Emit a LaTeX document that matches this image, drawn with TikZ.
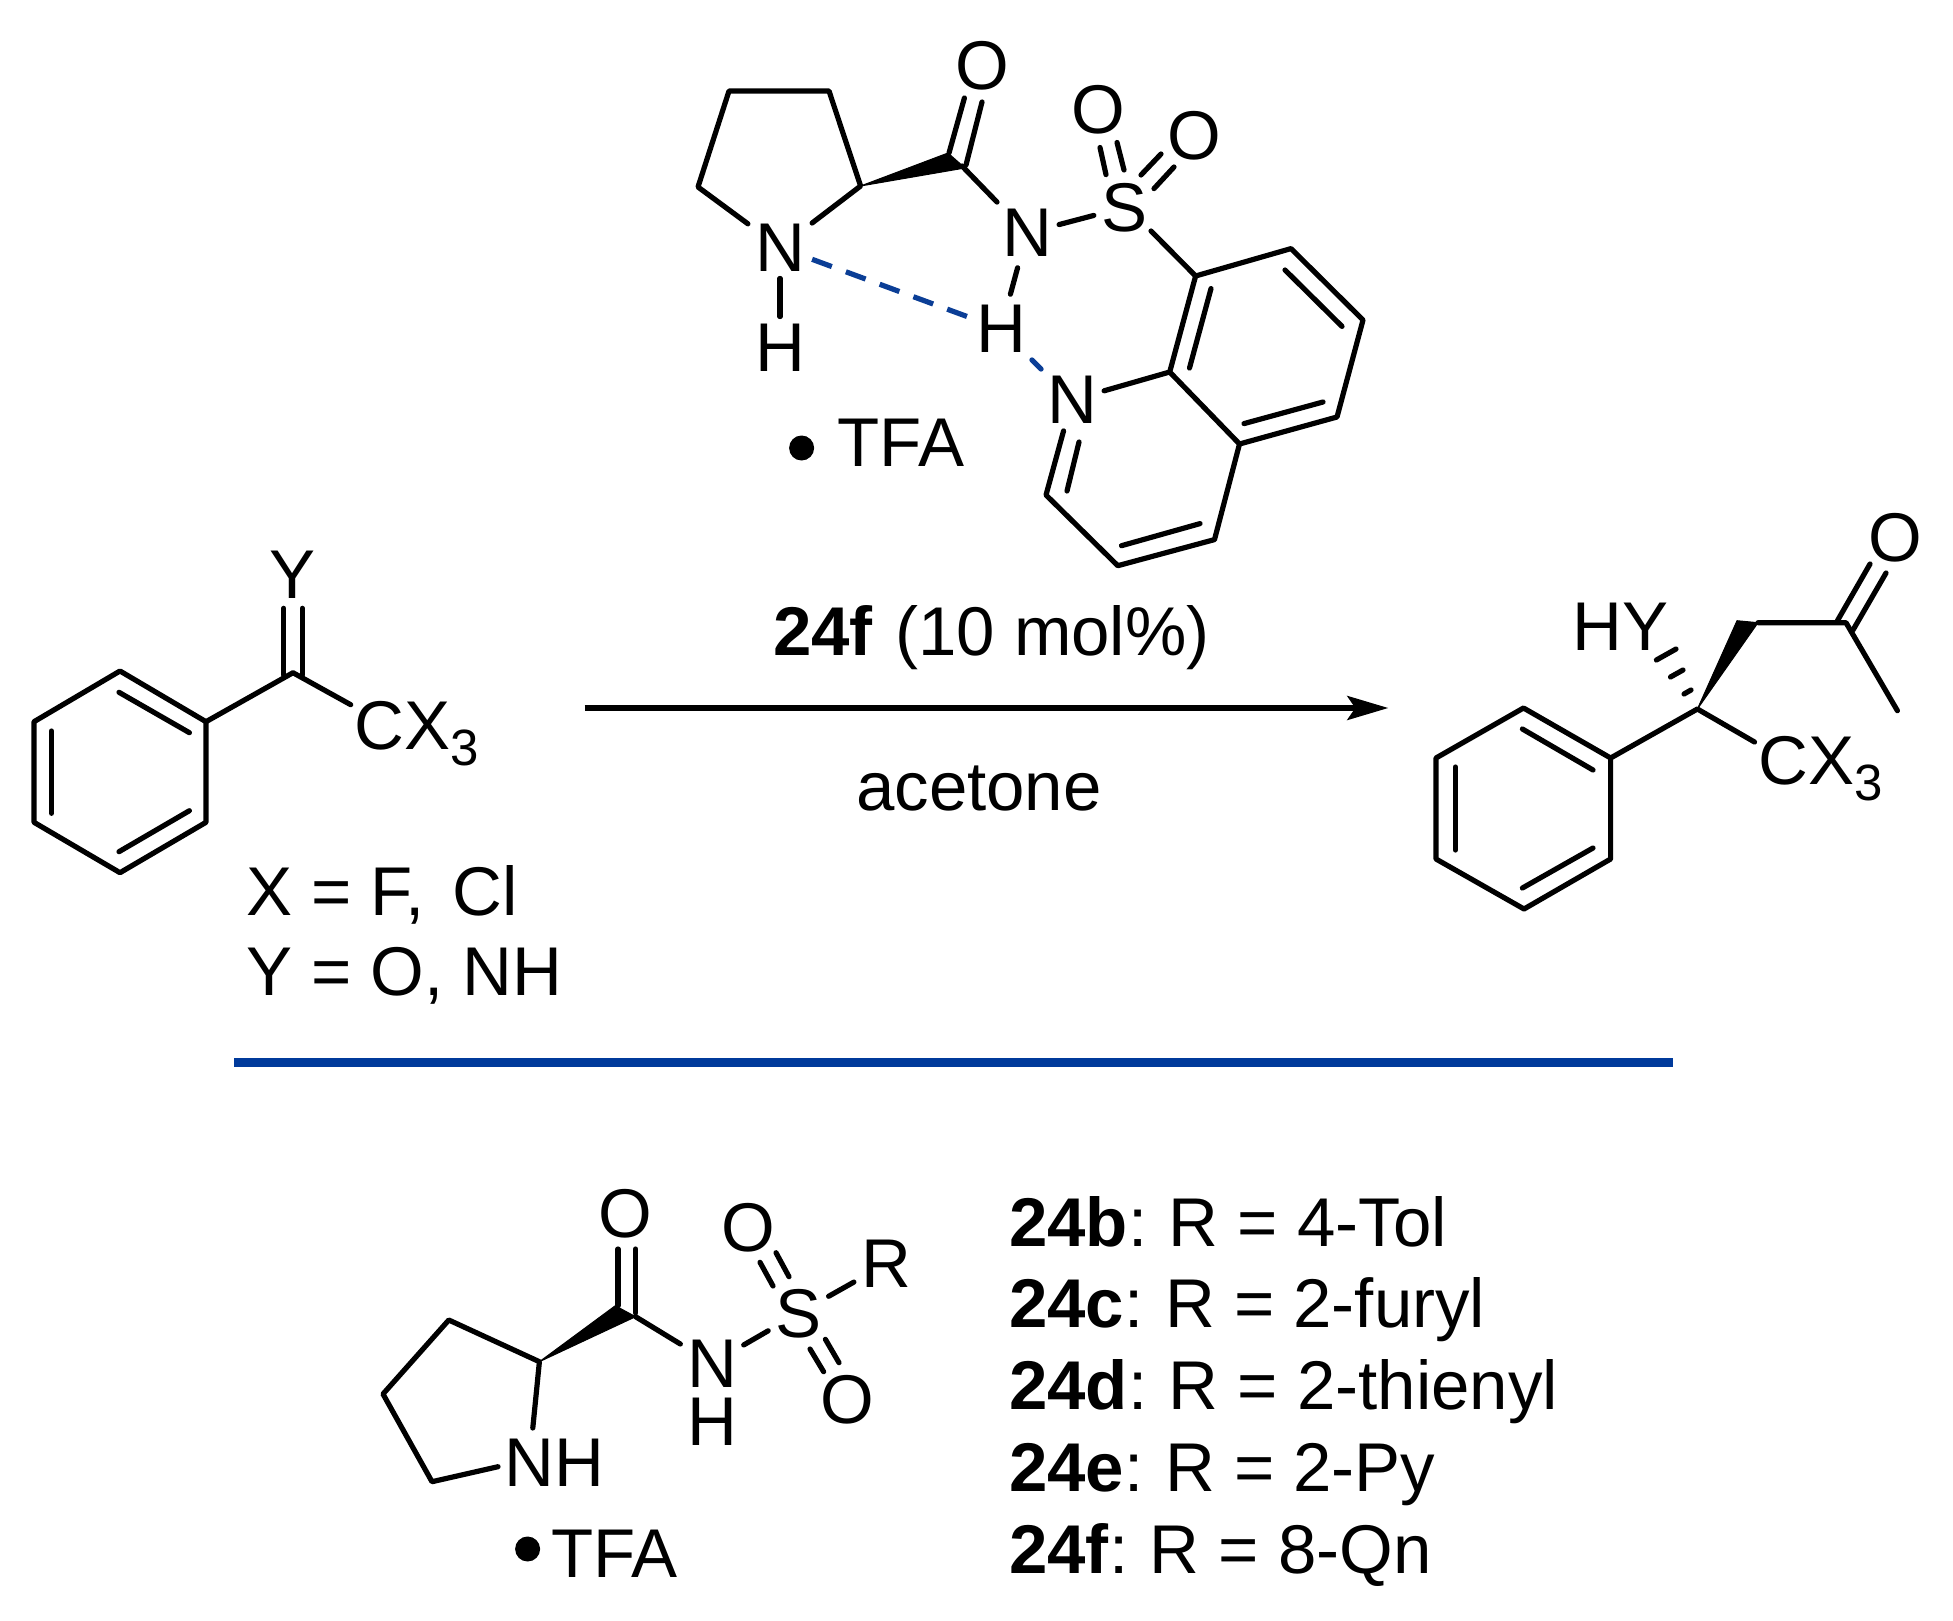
\documentclass[tikz,border=0pt]{standalone}
\usepackage{fontspec}
\setmainfont{Liberation Sans}
\usetikzlibrary{arrows.meta}
\definecolor{hbond}{HTML}{0B3E96}
\definecolor{rule}{HTML}{003A9B}
\newcommand{\fs}{\fontsize{69}{80}\selectfont}
\newcommand{\subthree}{\raisebox{-16pt}{\fontsize{51}{60}\selectfont 3}}
\newcommand{\seg}[3]{\coordinate (#1a) at (#2); \coordinate (#1b) at (#3); \draw[bondline] (#1a) -- (#1b);}
\tikzset{
  bondline/.style={line width=5.2pt,line cap=round,line join=round,black},
  hashline/.style={hbond,line width=5.2pt,line cap=round},
  atom/.style={font=\fs,inner sep=7pt,anchor=center},
  label/.style={font=\fs,inner sep=0pt,anchor=base west},
  dotnode/.style={circle,fill=black,inner sep=0pt,minimum size=25pt},
  wedge/.style={fill=black,draw=black,line width=1pt,line join=round},
}
\begin{document}
\begin{tikzpicture}[x=1pt,y=-1pt]
\useasboundingbox[fill=white] (0,0) rectangle (1953,1621);

% ---------- catalyst 24f ----------
\coordinate (pa) at (729,91);
\coordinate (pb) at (829,91);
\coordinate (pc) at (860.6,186);
\coordinate (pd) at (698,187);
\coordinate (cc) at (962,166);
\coordinate (w1) at (948,153);
\coordinate (w2) at (965,168);
\node[atom] (N1) at (780,247.5) {N};
\node[atom] (H1) at (780,347.5) {H};
\node[atom] (O1) at (982,65.7) {O};
\node[atom] (N2) at (1027,233) {N};
\node[atom] (S1) at (1124,207.5) {S};
\node[atom] (O2) at (1098,110) {O};
\node[atom] (O3) at (1194,136) {O};
\node[atom] (H2) at (1001,329) {H};
\node[atom] (N3) at (1072,400) {N};
\draw[bondline] (N1) -- (pd) -- (pa) -- (pb) -- (pc) -- (N1);
\fill[wedge] (pc) -- (w1) -- (w2) -- cycle;
\draw[bondline] (N1) -- (H1);
\seg{co1}{949,153}{964.4,98}
\seg{co2}{966,165}{982,102}
\draw[bondline] (cc) -- (N2);
\draw[bondline] (N2) -- (S1);
\draw[bondline,shorten <=4pt,shorten >=4pt] (N2) -- (H2);
\seg{so1}{1106,174.6}{1100,147.5}
\seg{so2}{1124,170}{1117,142.5}
\seg{so3}{1141,175}{1161,154}
\seg{so4}{1154,188.6}{1174,167}
\coordinate (q8) at (1195.6,276);
\coordinate (q7) at (1291,248.6);
\coordinate (q6) at (1363,320);
\coordinate (q5) at (1337,417);
\coordinate (q4a) at (1239.5,444);
\coordinate (q8a) at (1169.7,372);
\coordinate (q4) at (1214.5,539.6);
\coordinate (q3) at (1117.8,565.7);
\coordinate (q2) at (1046,495);
\coordinate (sc) at (1151,231);
\draw[bondline] (sc) -- (q8);
\draw[bondline] (q8) -- (q7) -- (q6) -- (q5) -- (q4a) -- (q8a) -- cycle;
\draw[bondline] (q4a) -- (q4) -- (q3) -- (q2) -- (N3);
\draw[bondline] (q8a) -- (N3);
\seg{qi1}{1067,491}{1079,442}
\seg{qi2}{1121.5,545.7}{1200,523.6}
\seg{qi3}{1244,423.6}{1323,402}
\seg{qi4}{1285,270}{1342,326.4}
\seg{qi5}{1211,288.6}{1189.5,368}
\draw[hashline,line cap=butt,dash pattern=on 21pt off 15pt] (N1) -- (H2);
\draw[hashline] (H2) -- (N3);
\node[dotnode] (dot1) at (801.6,448) {};
\node[label] (tfa1) at (837.5,466) {TFA};

% ---------- substrate ----------
\coordinate (b1) at (120,671);
\coordinate (b2) at (206,721.7);
\coordinate (b3) at (206,822.3);
\coordinate (b4) at (120,872.7);
\coordinate (b5) at (34,822.3);
\coordinate (b6) at (34,721.7);
\coordinate (cs) at (293,672.7);
\coordinate (cxe) at (350.7,704.7);
\draw[bondline] (b1) -- (b2) -- (b3) -- (b4) -- (b5) -- (b6) -- cycle;
\seg{bi1}{119,692.3}{189.4,732.7}
\seg{bi2}{51.4,731}{51.4,813.3}
\seg{bi3}{119,851.7}{189.4,810.7}
\draw[bondline] (b2) -- (cs) -- (cxe);
\seg{cy1}{283.8,675}{283.8,608.3}
\seg{cy2}{302.3,675}{302.3,608.3}
\node[atom] (Y1) at (292.3,574.5) {Y};
\node[label] (cx3a) at (354,749) {CX\subthree};
\node[label] (xeq) at (246,915.7) {X = F,\kern 9pt{} Cl};
\node[label] (yeq) at (246,995.7) {Y = O, NH};

% ---------- arrow ----------
\coordinate (ar1) at (584.7,708);
\coordinate (ar2) at (1388.3,708);
\draw[line width=5.2pt,-{Stealth[length=41pt,width=24pt,inset=8pt]}] (ar1) -- (ar2);
\node[label] (cond) at (773,655) {\textbf{24f}\kern 3pt{} (10 mol\%)};
\node[label] (solv) at (856,810) {acetone};

% ---------- product ----------
\coordinate (d1) at (1523.5,708);
\coordinate (d2) at (1610.6,758);
\coordinate (d3) at (1610.6,859);
\coordinate (d4) at (1524,909);
\coordinate (d5) at (1436,859);
\coordinate (d6) at (1436,758);
\coordinate (cst) at (1697.4,709);
\coordinate (cxf) at (1754.5,742);
\coordinate (ch1) at (1737,620.7);
\coordinate (ch2) at (1758,622.7);
\coordinate (ck) at (1846,622.7);
\coordinate (me) at (1897.4,710.7);
\draw[bondline] (d1) -- (d2) -- (d3) -- (d4) -- (d5) -- (d6) -- cycle;
\seg{di1}{1522.4,729}{1593,770}
\seg{di2}{1455.4,767}{1455.4,850}
\seg{di3}{1522.4,888}{1593,848}
\draw[bondline] (d2) -- (cst) -- (cxf);
\fill[wedge] (cst) -- (ch1) -- (ch2) -- cycle;
\draw[bondline] (ch2) -- (ck) -- (me);
\seg{ko1}{1837.4,620.7}{1870,564}
\seg{ko2}{1853,630}{1886,573}
\node[atom] (O4) at (1895.6,537.7) {O};
\node[label] (hy) at (1572.5,650) {HY};
\node[label] (cx3b) at (1758,784) {CX\subthree};
\seg{h1}{1684,694}{1691,690}
\seg{h2}{1670.5,677}{1683,670}
\seg{h3}{1656.4,660}{1676,649}

% ---------- rule ----------
\coordinate (ru1) at (234,1062);
\coordinate (ru2) at (1673,1062);
\draw[rule,line width=9pt] (ru1) -- (ru2);

% ---------- general catalyst ----------
\coordinate (ga) at (448.8,1320);
\coordinate (gb) at (539.4,1361.7);
\coordinate (gc) at (383,1394);
\coordinate (gd) at (432,1481.7);
\coordinate (ge) at (532.8,1428);
\coordinate (gf) at (498,1466.7);
\coordinate (gw1) at (615.3,1305.7);
\coordinate (gw2) at (635.6,1316.7);
\node[label] (nh) at (504,1486.7) {NH};
\draw[bondline] (ge) -- (gb) -- (ga) -- (gc) -- (gd) -- (gf);
\fill[wedge] (gb) -- (gw1) -- (gw2) -- cycle;
\seg{gco1}{617.9,1305.7}{617.9,1249}
\seg{gco2}{635.6,1313}{635.6,1249}
\node[atom] (O5) at (625.6,1214) {O};
\node[atom,inner sep=4pt] (N5) at (712,1363.3) {N};
\node[atom,inner sep=0pt] (H5) at (712,1421.7) {H};
\node[atom] (S5) at (798.4,1313.3) {S};
\node[atom] (R5) at (886,1264) {R};
\node[atom] (O6) at (748.5,1227.7) {O};
\node[atom] (O7) at (847.6,1399.3) {O};
\draw[bondline,shorten >=3pt] (gw2) -- (N5);
\draw[bondline,shorten <=3pt] (N5) -- (S5);
\draw[bondline] (S5) -- (R5);
\seg{gs1}{773,1286}{760,1262.3}
\seg{gs2}{789,1276.7}{776,1252.7}
\seg{gs3}{823.6,1371.7}{810,1349}
\seg{gs4}{839,1362.7}{825.4,1339.3}
\node[dotnode] (dot2) at (527.6,1549) {};
\node[label] (tfa2) at (551,1577.7) {TFA};

% ---------- list ----------
\node[label] (l1) at (1009,1246) {\textbf{24b}:\kern -4pt{} R = 4-Tol};
\node[label] (l2) at (1009,1327.5) {\textbf{24c}:\kern -4pt{} R = 2-furyl};
\node[label] (l3) at (1009,1409) {\textbf{24d}:\kern -4pt{} R = 2-thienyl};
\node[label] (l4) at (1009,1491) {\textbf{24e}:\kern -4pt{} R = 2-Py};
\node[label] (l5) at (1009,1573) {\textbf{24f}:\kern -4pt{} R = 8-Qn};
\end{tikzpicture}
\end{document}
